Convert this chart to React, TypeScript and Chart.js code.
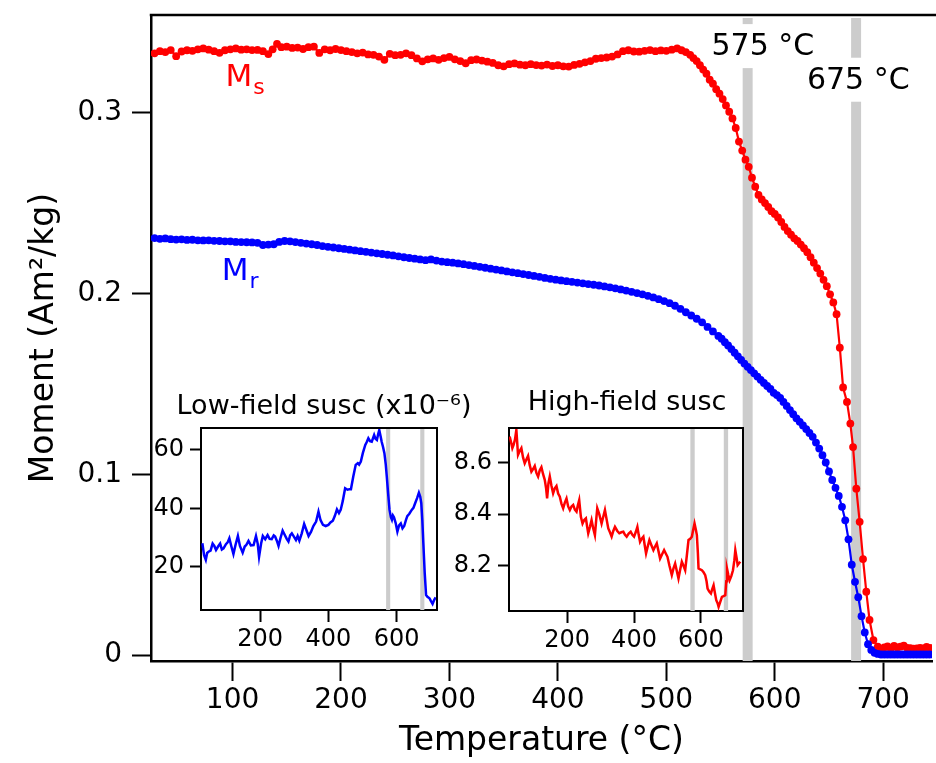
import React, { useEffect, useRef } from "react";
import { Chart, registerables } from "chart.js";

Chart.register(...registerables);

const FONT = "'DejaVu Sans', 'Liberation Sans', sans-serif";
const RED = "#ff0000";
const BLUE = "#0000ff";
const BAND = "#cccccc";

// ---------- Main chart data: [temperature °C, moment Am²/kg] ----------
const MS_POINTS: [number, number][] = [
  [28,0.3328],[33,0.3340],[38,0.3335],[43,0.3346],[48,0.3312],[53,0.3338],[58,0.3345],[63,0.3342],[68,0.3350],[73,0.3355],
  [78,0.3348],[83,0.3340],[88,0.3331],[93,0.3345],[98,0.3350],[103,0.3355],[108,0.3348],[113,0.3350],[118,0.3346],[123,0.3347],
  [128,0.3340],[133,0.3324],[137,0.3350],[141,0.3380],[145,0.3362],[150,0.3365],[155,0.3358],[160,0.3360],[165,0.3352],[170,0.3362],
  [175,0.3365],[180,0.3330],[185,0.3350],[190,0.3345],[195,0.3352],[200,0.3346],[205,0.3340],[210,0.3335],[215,0.3328],[220,0.3332],
  [225,0.3322],[230,0.3320],[235,0.3310],[240,0.3292],[245,0.3325],[250,0.3318],[255,0.3320],[260,0.3328],[265,0.3318],[270,0.3300],
  [275,0.3284],[280,0.3295],[285,0.3300],[290,0.3292],[295,0.3302],[300,0.3308],[305,0.3295],[310,0.3285],[315,0.3273],[320,0.3290],
  [325,0.3294],[330,0.3288],[335,0.3282],[340,0.3275],[345,0.3262],[350,0.3256],[355,0.3268],[360,0.3272],[365,0.3265],[370,0.3262],
  [375,0.3268],[380,0.3263],[385,0.3260],[390,0.3266],[395,0.3258],[400,0.3262],[405,0.3256],[410,0.3255],[415,0.3264],[420,0.3270],
  [425,0.3278],[430,0.3285],[435,0.3298],[440,0.3302],[445,0.3305],[450,0.3310],[455,0.3322],[460,0.3340],[465,0.3345],[470,0.3338],
  [475,0.3337],[480,0.3342],[485,0.3346],[490,0.3340],[495,0.3344],[500,0.3342],[505,0.3348],[510,0.3355],[514,0.3345],[518,0.3335],
  [522,0.3320],[525,0.3302],[528,0.3285],[531,0.3262],[534,0.3238],[537,0.3215],[540,0.3182],[543,0.3160],[546,0.3130],[549,0.3105],
  [552,0.3075],[555,0.3040],[558,0.3005],[561,0.2968],[564,0.2915],[567,0.2840],[570,0.2790],[573,0.2740],[576,0.2700],[579,0.2640],
  [582,0.2590],[585,0.2545],[588,0.2520],[591,0.2500],[594,0.2478],[597,0.2455],[600,0.2440],[603,0.2420],[606,0.2395],[609,0.2368],
  [612,0.2345],[615,0.2325],[618,0.2305],[621,0.2290],[624,0.2270],[627,0.2250],[630,0.2228],[633,0.2200],[636,0.2170],[639,0.2140],
  [642,0.2110],[645,0.2075],[648,0.2040],[651,0.1995],[654,0.1950],[657,0.1885],[660,0.1700],[663,0.1480],[666.6,0.1400],[669.7,0.1280],
  [672.2,0.1150],[675.2,0.0920],[678.3,0.0737],[681.4,0.0531],[684.4,0.0350],[687.4,0.0194],[691,0.0083],[695,0.0046],[698,0.0030],[701,0.0042],
  [704,0.0048],[707,0.0035],[710,0.0050],[713,0.0042],[716,0.0046],[719,0.0052],[722,0.0040],[725,0.0038],[728,0.0035],[731,0.0037],
  [734,0.0040],[737,0.0036],[740,0.0045],[743,0.0040],[746,0.0035]
];

const MR_POINTS: [number, number][] = [
  [28,0.2306],[33,0.2302],[38,0.2304],[43,0.2300],[48,0.2298],[53,0.2299],[58,0.2296],[63,0.2297],[68,0.2294],[73,0.2293],
  [78,0.2294],[83,0.2291],[88,0.2290],[93,0.2288],[98,0.2288],[103,0.2285],[108,0.2284],[113,0.2283],[118,0.2282],[123,0.2280],
  [128,0.2268],[133,0.2270],[138,0.2272],[143,0.2285],[148,0.2290],[153,0.2288],[158,0.2284],[163,0.2280],[168,0.2276],[173,0.2272],
  [178,0.2268],[183,0.2262],[188,0.2258],[193,0.2254],[198,0.2250],[203,0.2246],[208,0.2242],[213,0.2238],[218,0.2234],[223,0.2230],
  [228,0.2226],[233,0.2222],[238,0.2218],[243,0.2214],[248,0.2210],[253,0.2205],[258,0.2200],[263,0.2196],[268,0.2192],[273,0.2188],
  [278,0.2184],[283,0.2188],[288,0.2182],[293,0.2176],[298,0.2173],[303,0.2170],[308,0.2166],[313,0.2162],[318,0.2157],[323,0.2152],
  [328,0.2147],[333,0.2142],[338,0.2137],[343,0.2132],[348,0.2127],[353,0.2122],[358,0.2117],[363,0.2112],[368,0.2107],[373,0.2102],
  [378,0.2097],[383,0.2092],[388,0.2086],[393,0.2081],[398,0.2076],[403,0.2072],[408,0.2068],[413,0.2064],[418,0.2060],[423,0.2056],
  [428,0.2052],[433,0.2048],[438,0.2044],[443,0.2039],[448,0.2034],[453,0.2028],[458,0.2022],[463,0.2016],[468,0.2009],[473,0.2002],
  [478,0.1995],[483,0.1987],[488,0.1978],[493,0.1968],[498,0.1958],[503,0.1946],[508,0.1932],[513,0.1915],[518,0.1896],[523,0.1878],
  [528,0.1860],[533,0.1840],[538,0.1815],[543,0.1790],[548,0.1765],[551,0.1750],[554,0.1730],[557,0.1712],[560,0.1692],[563,0.1672],
  [566,0.1652],[569,0.1632],[572,0.1612],[575,0.1594],[578,0.1576],[581,0.1558],[584,0.1540],[587,0.1522],[590,0.1505],[593,0.1488],
  [596,0.1472],[599,0.1450],[602,0.1438],[605,0.1422],[608,0.1400],[611,0.1378],[614,0.1355],[617,0.1332],[620,0.1309],[623,0.1290],
  [626,0.1270],[629,0.1250],[632,0.1228],[635,0.1207],[638,0.1175],[641,0.1142],[644,0.1105],[647,0.1065],[650,0.1015],[653,0.0968],
  [656,0.0925],[659,0.0880],[662,0.0820],[665,0.0745],[668,0.0640],[671,0.0500],[674,0.0405],[677,0.0320],[680,0.0215],[683,0.0125],
  [686,0.0060],[689,0.0028],[692,0.0012],[695,0.0006],[698,0.0003],[701,0.0003],[704,0.0003],[707,0.0003],[710,0.0003],[713,0.0003],
  [716,0.0003],[719,0.0003],[722,0.0003],[725,0.0003],[728,0.0003],[731,0.0003],[734,0.0003],[737,0.0003],[740,0.0003],[743,0.0003],[746,0.0003]
];

const MAIN_X_TICKS = [100, 200, 300, 400, 500, 600, 700];
const MAIN_Y_TICKS = [0, 0.1, 0.2, 0.3];
const TRANSITIONS = [575, 675];
const TRANSITION_LABELS = ["575 °C", "675 °C"];

// ---------- Inset: low-field susceptibility (x10^-6) ----------
const LF_POINTS: [number, number][] = [
  [31,28.1],[36,24.0],[41,22.4],[45,24.8],[49,25.2],[55,25.6],[61,28.0],[66,27.2],[71,25.8],[77,27.0],[83,28.0],[88,26.0],
  [93,26.4],[100,27.8],[105,28.4],[110,29.8],[116,27.0],[122,24.4],[128,27.5],[135,30.6],[141,27.2],[149,24.9],[155,27.0],
  [160,27.6],[166,28.9],[173,27.4],[181,27.5],[188,30.6],[193,28.0],[197,23.5],[203,28.0],[208,30.6],[215,29.5],[222,30.9],
  [228,29.6],[234,29.5],[240,30.8],[244,30.4],[249,29.0],[254,27.2],[260,30.0],[266,32.4],[272,31.0],[278,29.6],[283,28.7],
  [288,30.8],[293,31.5],[299,30.4],[305,29.2],[310,30.6],[315,29.0],[322,31.5],[329,34.7],[335,32.8],[342,30.6],[349,32.0],
  [356,34.0],[364,35.5],[371,38.9],[377,36.0],[384,34.4],[392,34.0],[400,34.4],[406,35.2],[413,35.8],[419,37.5],[425,39.7],
  [431,38.4],[436,39.5],[442,42.5],[449,46.9],[456,46.4],[462,46.6],[466,46.6],[473,51.0],[480,54.9],[486,55.5],[490,55.0],
  [495,56.0],[501,59.0],[508,61.7],[512,62.6],[517,64.0],[522,63.0],[527,62.8],[534,65.1],[538,63.8],[542,63.4],[546,65.5],
  [549,66.8],[553,64.6],[556,62.8],[560,61.0],[564,58.9],[568,55.0],[571,50.9],[575,45.0],[579,39.5],[583,37.0],[586,36.1],
  [589,37.6],[592,37.0],[597,35.0],[602,32.1],[607,34.2],[612,34.9],[617,33.2],[622,34.0],[627,36.0],[631,37.4],[637,38.2],
  [644,39.5],[649,40.2],[654,41.8],[660,43.6],[665,45.4],[669,44.0],[672,41.8],[675,36.0],[678,28.1],[682,18.0],[686,10.4],
  [690,9.8],[696,9.3],[700,8.4],[705,7.4],[710,8.8],[714,9.6]
];
const LF_X_TICKS = [200, 400, 600];
const LF_Y_TICKS = [20, 40, 60];

// ---------- Inset: high-field susceptibility ----------
const HF_POINTS: [number, number][] = [
  [28,8.701],[32,8.680],[36,8.656],[40,8.670],[44,8.690],[48,8.727],[53,8.630],[58,8.645],[63,8.656],[68,8.620],[73,8.597],
  [78,8.612],[83,8.626],[88,8.590],[93,8.565],[98,8.575],[103,8.587],[108,8.560],[113,8.546],[118,8.570],[123,8.582],[128,8.555],
  [133,8.533],[137,8.500],[140,8.461],[144,8.520],[148,8.546],[153,8.510],[158,8.481],[163,8.500],[168,8.509],[173,8.480],
  [178,8.468],[183,8.440],[188,8.423],[193,8.445],[198,8.461],[203,8.430],[208,8.416],[213,8.430],[218,8.436],[223,8.418],
  [228,8.410],[232,8.435],[236,8.455],[241,8.390],[246,8.364],[251,8.378],[256,8.384],[260,8.350],[263,8.326],[268,8.350],
  [273,8.377],[278,8.345],[283,8.319],[287,8.380],[290,8.423],[296,8.400],[303,8.364],[308,8.390],[313,8.416],[318,8.380],
  [323,8.345],[328,8.330],[333,8.313],[338,8.335],[343,8.351],[350,8.335],[356,8.326],[362,8.330],[368,8.332],[373,8.320],
  [378,8.313],[384,8.325],[390,8.332],[395,8.320],[400,8.313],[405,8.330],[410,8.351],[414,8.320],[418,8.293],[423,8.305],
  [428,8.313],[432,8.280],[436,8.248],[441,8.275],[446,8.300],[452,8.280],[458,8.261],[463,8.275],[468,8.287],[473,8.258],
  [478,8.228],[484,8.245],[490,8.261],[495,8.248],[500,8.235],[506,8.200],[513,8.164],[518,8.190],[523,8.209],[528,8.180],
  [533,8.151],[538,8.185],[543,8.216],[548,8.200],[553,8.183],[558,8.240],[563,8.300],[568,8.305],[573,8.313],[577,8.340],
  [581,8.364],[585,8.340],[588,8.319],[591,8.250],[593,8.190],[598,8.186],[603,8.183],[608,8.175],[613,8.164],[617,8.140],
  [620,8.112],[625,8.100],[630,8.093],[634,8.110],[638,8.125],[642,8.095],[646,8.067],[650,8.055],[653,8.041],[658,8.060],
  [663,8.080],[668,8.083],[673,8.086],[676,8.140],[678,8.190],[682,8.165],[686,8.144],[691,8.160],[696,8.183],[700,8.220],
  [703,8.261],[707,8.230],[710,8.203],[714,8.210],[718,8.216]
];
const HF_X_TICKS = [200, 400, 600];
const HF_Y_TICKS = [8.2, 8.4, 8.6];

const toXY = (pts: [number, number][]) => pts.map(([x, y]) => ({ x, y }));

// ---------- plugins ----------
function bandsPlugin(id: string, halfWidth: number, topInset: number) {
  return {
    id,
    beforeDatasetsDraw(chart: any) {
      const { ctx, chartArea, scales } = chart;
      const x = scales.x;
      ctx.save();
      ctx.fillStyle = BAND;
      TRANSITIONS.forEach((t) => {
        const l = x.getPixelForValue(t - halfWidth);
        const r = x.getPixelForValue(t + halfWidth);
        ctx.fillRect(l, chartArea.top + topInset, r - l, chartArea.bottom - chartArea.top - topInset);
      });
      ctx.restore();
    },
  };
}

const mainDecor = {
  id: "mainDecor",
  beforeDatasetsDraw(chart: any) {
    const { ctx, scales } = chart;
    const x = scales.x;
    const y = scales.y;
    const labelPos: [number, number][] = [[589, 0.3368], [677, 0.3182]];
    ctx.save();
    ctx.font = `30px ${FONT}`;
    ctx.textAlign = "center";
    ctx.textBaseline = "middle";
    TRANSITION_LABELS.forEach((txt, i) => {
      const cx = x.getPixelForValue(labelPos[i][0]);
      const cy = y.getPixelForValue(labelPos[i][1]);
      const w = ctx.measureText(txt).width;
      ctx.fillStyle = "#ffffff";
      ctx.fillRect(cx - w / 2 - 2, cy - 22, w + 4, 44);
      ctx.fillStyle = "#000000";
      ctx.fillText(txt, cx, cy + 1);
    });
    ctx.restore();
  },
  afterDraw(chart: any) {
    const { ctx, chartArea, scales, width } = chart;
    const x = scales.x;
    const y = scales.y;
    ctx.save();
    ctx.strokeStyle = "#000";
    ctx.lineWidth = 2.5;
    ctx.beginPath();
    ctx.moveTo(chartArea.left - 1.25, chartArea.top);
    ctx.lineTo(width, chartArea.top);
    ctx.stroke();

    const drawSub = (main: string, sub: string, t: number, v: number, color: string) => {
      const px = x.getPixelForValue(t);
      const py = y.getPixelForValue(v);
      ctx.fillStyle = color;
      ctx.textAlign = "left";
      ctx.textBaseline = "alphabetic";
      ctx.font = `31px ${FONT}`;
      ctx.fillText(main, px, py);
      const w = ctx.measureText(main).width;
      ctx.font = `22px ${FONT}`;
      ctx.fillText(sub, px + w + 1, py + 8);
    };
    drawSub("M", "s", 93.5, 0.3147, RED);
    drawSub("M", "r", 90, 0.2074, BLUE);
    ctx.restore();
  },
};

const insetFrame = {
  id: "insetFrame",
  beforeDraw(chart: any) {
    const { ctx, chartArea } = chart;
    ctx.save();
    ctx.fillStyle = "#ffffff";
    ctx.fillRect(chartArea.left, chartArea.top, chartArea.right - chartArea.left, chartArea.bottom - chartArea.top);
    ctx.restore();
  },
  afterDraw(chart: any) {
    const { ctx, chartArea } = chart;
    ctx.save();
    ctx.strokeStyle = "#000";
    ctx.lineWidth = 2;
    ctx.beginPath();
    ctx.moveTo(chartArea.left - 1, chartArea.top);
    ctx.lineTo(chartArea.right, chartArea.top);
    ctx.lineTo(chartArea.right, chartArea.bottom + 1);
    ctx.stroke();
    ctx.restore();
  },
};

const insetTitle = (text: string, cx: number, cy: number) => ({
  id: "insetTitle",
  afterDraw(chart: any) {
    const { ctx } = chart;
    ctx.save();
    ctx.fillStyle = "#000";
    ctx.font = `27px ${FONT}`;
    ctx.textAlign = "center";
    ctx.textBaseline = "middle";
    ctx.fillText(text, cx, cy);
    ctx.restore();
  },
});

const zeroPad = (s: any) => {
  s.paddingTop = 0;
  s.paddingBottom = 0;
  s.paddingLeft = 0;
  s.paddingRight = 0;
};

function axisCommon(tickLen: number, tickW: number, borderW: number, fontSize: number, pad: number) {
  return {
    grid: { display: true, drawOnChartArea: false, drawTicks: true, tickLength: tickLen, tickWidth: tickW, tickColor: "#000" },
    border: { display: true, color: "#000", width: borderW },
    ticks: { color: "#000", font: { family: FONT, size: fontSize }, padding: pad, maxRotation: 0, autoSkip: false },
  };
}

function makeMain(canvas: HTMLCanvasElement) {
  const xc = axisCommon(20, 2, 2.5, 28, 3);
  const yc = axisCommon(19, 2, 2.5, 28, 10);
  return new Chart(canvas, {
    type: "line",
    data: {
      datasets: [
        { label: "Mr", data: toXY(MR_POINTS), borderColor: BLUE, backgroundColor: BLUE, pointBackgroundColor: BLUE, borderWidth: 2.2, pointRadius: 3.9, pointBorderWidth: 0, tension: 0 },
        { label: "Ms", data: toXY(MS_POINTS), borderColor: RED, backgroundColor: RED, pointBackgroundColor: RED, borderWidth: 2.2, pointRadius: 3.9, pointBorderWidth: 0, tension: 0 },
      ],
    },
    options: {
      responsive: false,
      animation: false,
      events: [],
      layout: { padding: { left: 0, top: 15, right: 0, bottom: 0 } },
      plugins: { legend: { display: false }, tooltip: { enabled: false } },
      scales: {
        x: {
          type: "linear",
          min: 24.8,
          max: 745,
          ...xc,
          afterBuildTicks: (s: any) => { s.ticks = MAIN_X_TICKS.map((v) => ({ value: v })); },
          afterFit: (s: any) => { s.height = 102; zeroPad(s); },
          title: { display: true, text: "Temperature (°C)", color: "#000", font: { family: FONT, size: 33, lineHeight: 1 }, padding: { top: 0, bottom: 5 } },
        },
        y: {
          type: "linear",
          min: -0.0033,
          max: 0.354,
          ...yc,
          afterBuildTicks: (s: any) => { s.ticks = MAIN_Y_TICKS.map((v) => ({ value: v })); },
          afterFit: (s: any) => { s.width = 151; zeroPad(s); },
          title: { display: true, text: "Moment (Am²/kg)", color: "#000", font: { family: FONT, size: 33, lineHeight: 1 }, padding: { top: 28, bottom: 0 } },
        },
      },
    } as any,
    plugins: [bandsPlugin("mainBands", 4.6, 3), mainDecor],
  });
}

function makeInset(
  canvas: HTMLCanvasElement,
  pts: [number, number][],
  color: string,
  xr: [number, number],
  yr: [number, number],
  xt: number[],
  yt: number[],
  yWidth: number,
  xHeight: number,
  padTop: number,
  padRight: number,
  title: string,
  titlePos: [number, number],
  bandHalf: number,
  yFmt: (v: number) => string
) {
  const xc = axisCommon(12, 2, 2, 24, 3);
  const yc = axisCommon(11, 2, 2, 24, 6);
  return new Chart(canvas, {
    type: "line",
    data: {
      datasets: [
        { label: title, data: toXY(pts), borderColor: color, backgroundColor: color, borderWidth: 2.5, pointRadius: 0, tension: 0 },
      ],
    },
    options: {
      responsive: false,
      animation: false,
      events: [],
      layout: { padding: { left: 0, top: padTop, right: padRight, bottom: 0 } },
      plugins: { legend: { display: false }, tooltip: { enabled: false } },
      scales: {
        x: {
          type: "linear",
          min: xr[0],
          max: xr[1],
          ...xc,
          afterBuildTicks: (s: any) => { s.ticks = xt.map((v) => ({ value: v })); },
          afterFit: (s: any) => { s.height = xHeight; zeroPad(s); },
        },
        y: {
          type: "linear",
          min: yr[0],
          max: yr[1],
          ...yc,
          ticks: { ...yc.ticks, callback: (v: any) => yFmt(Number(v)) },
          afterBuildTicks: (s: any) => { s.ticks = yt.map((v) => ({ value: v })); },
          afterFit: (s: any) => { s.width = yWidth; zeroPad(s); },
        },
      },
    } as any,
    plugins: [insetFrame, bandsPlugin("insetBands", bandHalf, 0), insetTitle(title, titlePos[0], titlePos[1])],
  });
}

export default function App() {
  const mainRef = useRef<HTMLCanvasElement>(null);
  const lfRef = useRef<HTMLCanvasElement>(null);
  const hfRef = useRef<HTMLCanvasElement>(null);

  useEffect(() => {
    const charts: Chart[] = [];
    if (mainRef.current) charts.push(makeMain(mainRef.current));
    if (lfRef.current)
      charts.push(
        makeInset(lfRef.current, LF_POINTS, BLUE, [27, 718], [5.3, 67.5], LF_X_TICKS, LF_Y_TICKS, 51, 45, 53, 43,
          "Low-field susc (x10⁻⁶)", [174, 32], 6, (v) => String(Math.round(v)))
      );
    if (hfRef.current)
      charts.push(
        makeInset(hfRef.current, HF_POINTS, RED, [26, 726], [8.025, 8.734], HF_X_TICKS, HF_Y_TICKS, 54, 44, 53, 12,
          "High-field susc", [172, 28], 6.5, (v) => v.toFixed(1))
      );
    return () => charts.forEach((c) => c.destroy());
  }, []);

  return (
    <div style={{ position: "fixed", left: 0, top: 0, width: 936, height: 763, background: "#ffffff", overflow: "hidden" }}>
      <canvas ref={mainRef} width={936} height={763} style={{ position: "absolute", left: 0, top: 0 }} />
      <canvas ref={lfRef} width={330} height={280} style={{ position: "absolute", left: 150, top: 375 }} />
      <canvas ref={hfRef} width={300} height={280} style={{ position: "absolute", left: 455, top: 375 }} />
    </div>
  );
}
